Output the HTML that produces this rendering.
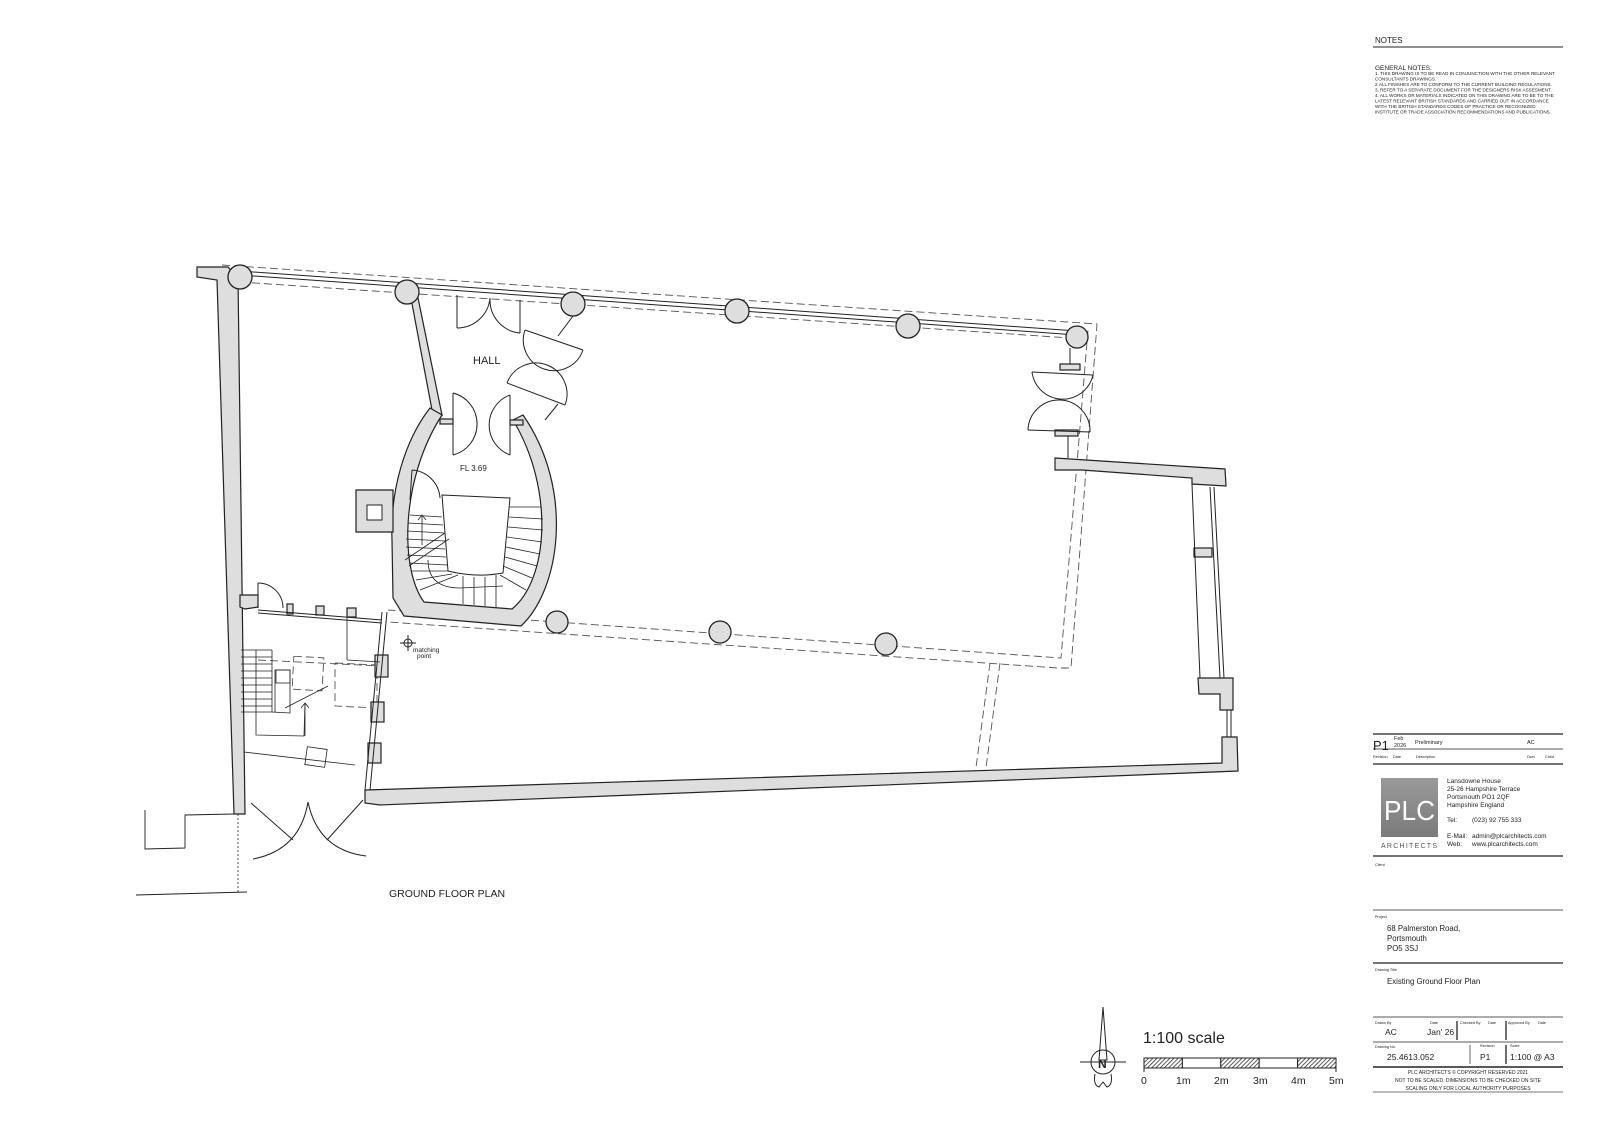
<!DOCTYPE html>
<html><head><meta charset="utf-8"><style>
html,body{margin:0;padding:0;background:#fff}
svg{display:block}
text{font-family:"Liberation Sans",Arial,sans-serif;fill:#222}
</style></head><body>
<svg width="1600" height="1131" viewBox="0 0 1600 1131" xmlns="http://www.w3.org/2000/svg">
<defs>
<pattern id="h" width="3" height="3" patternUnits="userSpaceOnUse" patternTransform="rotate(45)"><rect width="3" height="3" fill="#fff"/><line x1="0" y1="0" x2="0" y2="3" stroke="#333" stroke-width="1.6"/></pattern>
<linearGradient id="lg" x1="0" y1="0" x2="0" y2="1"><stop offset="0" stop-color="#9a9a9a"/><stop offset="1" stop-color="#7a7a7a"/></linearGradient>
</defs>
<g stroke="#222" stroke-width="1" fill="none">
<g stroke-dasharray="8,4" stroke="#555" stroke-width="0.9">
<polyline points="222,265 1097,324 1071,668 1058,668 388,622"/>
<polyline points="240,282 1070,338 1088,330 1061,658 388,610"/>
<line x1="1000" y1="663" x2="985" y2="775"/><line x1="990" y1="663" x2="975" y2="775"/>
<rect x="293" y="657" width="30" height="33" transform="rotate(3 308 673)"/>
<polyline points="335,663 377,665 377,708 335,706 335,663"/>
<line x1="258" y1="660" x2="380" y2="666"/>
</g>
<line x1="240" y1="271" x2="1077" y2="331"/><line x1="240" y1="275" x2="1077" y2="335"/>
<g fill="#dedede" stroke="#222" stroke-width="1.2">
<polygon points="197,267 228,267 238,278 245,814 234,814 217,280 197,277"/>
<polygon points="410,293 417,293 442,415 432,410"/>
<path d="M430 408 C405 440 390 490 392 540 L393 598 L404 616 L521 626 C560 590 575 490 523 415 L513 420 C555 490 548 580 512 609 L424 602 C400 570 400 480 442 415 Z"/>
<polygon points="356,490 393,490 393,532 356,532"/>
<polygon points="240,595 258,595 258,607 245,609 240,607"/>
<polygon points="365,790 1222,763 1222,737 1237,737 1238,771 380,805 365,803"/>
<polygon points="1055,458 1225,469 1226,486 1192,484 1192,478 1082,470 1055,470"/>
<polygon points="1198,678 1233,678 1233,710 1220,710 1220,694 1199,694"/>
<rect x="1194" y="548" width="18" height="9"/>
<rect x="287" y="604" width="6" height="10"/><rect x="316" y="606" width="8" height="9"/><rect x="347" y="608" width="9" height="9"/>
<rect x="375" y="655" width="13" height="22"/><rect x="371" y="702" width="13" height="20"/><rect x="368" y="743" width="13" height="20"/>
<rect x="1060" y="364" width="20" height="6"/><rect x="1055" y="430" width="23" height="6"/>
<rect x="440" y="419" width="13" height="5"/><rect x="510" y="420" width="13" height="5"/>
</g>
<rect x="367" y="505" width="15" height="15" fill="#fff"/>
<g fill="#dedede" stroke="#222" stroke-width="1.3">
<circle cx="240" cy="277" r="12"/><circle cx="407" cy="292" r="12"/><circle cx="573" cy="304" r="12"/><circle cx="737" cy="311" r="12"/><circle cx="908" cy="326" r="12"/><circle cx="1077" cy="337" r="11"/>
<circle cx="557" cy="622" r="11"/><circle cx="720" cy="632" r="11"/><circle cx="886" cy="644" r="11"/>
</g>
<line x1="258" y1="610" x2="382" y2="620"/><line x1="258" y1="613" x2="382" y2="623"/>
<line x1="382" y1="612" x2="365" y2="790"/><line x1="387" y1="612" x2="370" y2="790"/>
<line x1="1210" y1="487" x2="1220" y2="678"/><line x1="1214" y1="487" x2="1224" y2="678"/><line x1="1192" y1="484" x2="1200" y2="678"/>
<line x1="1227" y1="710" x2="1227" y2="737"/><line x1="1231" y1="710" x2="1231" y2="737"/>
<line x1="457" y1="295" x2="457" y2="328"/><path d="M457 328 A33 33 0 0 0 490 298"/>
<line x1="520" y1="300" x2="520" y2="333"/><path d="M520 333 A33 33 0 0 1 490 299"/>
<line x1="453" y1="393" x2="453" y2="455"/><path d="M453 393 A32 32 0 0 1 453 455"/>
<line x1="510" y1="395" x2="510" y2="455"/><path d="M510 395 A32 32 0 0 0 510 455"/>
<line x1="525" y1="330" x2="583" y2="350"/><path d="M525 330 A30 30 0 0 0 583 350"/>
<line x1="507" y1="383" x2="565" y2="405"/><path d="M507 383 A30 30 0 0 1 565 405"/>
<line x1="573" y1="316" x2="558" y2="336"/><line x1="558" y1="404" x2="545" y2="420"/>
<line x1="1032" y1="372" x2="1093" y2="375"/><path d="M1032 372 A31 31 0 0 0 1093 375"/>
<line x1="1028" y1="430" x2="1090" y2="432"/><path d="M1028 430 A31 31 0 0 1 1090 432"/>
<line x1="1070" y1="348" x2="1070" y2="364"/><line x1="1068" y1="436" x2="1068" y2="458"/>
<line x1="412" y1="470" x2="410" y2="500"/><path d="M412 470 A30 30 0 0 1 440 498"/>
<path d="M258 583 A25 25 0 0 1 283 608"/><line x1="258" y1="583" x2="258" y2="608"/>
<path d="M442 495 L510 498 L503 573 Q476 578 448 571 Z" fill="#fff"/>
<g stroke-width="0.8">
<line x1="410" y1="515" x2="442" y2="517"/><line x1="408" y1="523" x2="443" y2="525"/><line x1="407" y1="531" x2="444" y2="533"/><line x1="406" y1="539" x2="445" y2="541"/><line x1="406" y1="547" x2="445" y2="549"/><line x1="407" y1="555" x2="446" y2="557"/><line x1="409" y1="563" x2="447" y2="565"/><line x1="412" y1="571" x2="448" y2="571"/><line x1="416" y1="580" x2="452" y2="574"/><line x1="420" y1="590" x2="458" y2="575"/>
<line x1="463" y1="576" x2="463" y2="604"/><line x1="474" y1="577" x2="474" y2="605"/><line x1="485" y1="577" x2="485" y2="606"/><line x1="496" y1="575" x2="496" y2="607"/>
<line x1="510" y1="507" x2="541" y2="507"/><line x1="509" y1="517" x2="543" y2="519"/><line x1="508" y1="527" x2="543" y2="530"/><line x1="507" y1="537" x2="542" y2="542"/><line x1="506" y1="547" x2="540" y2="554"/><line x1="505" y1="557" x2="537" y2="566"/><line x1="503" y1="566" x2="532" y2="578"/><line x1="500" y1="575" x2="526" y2="590"/>
<line x1="405" y1="560" x2="445" y2="533"/><line x1="409" y1="566" x2="449" y2="539"/>
<path d="M422 515 L422 545 M418 520 L422 515 L426 520"/><path d="M428 560 Q428 588 460 588 L503 586"/>
<line x1="241" y1="650" x2="272" y2="650"/><line x1="241" y1="657" x2="272" y2="657"/><line x1="241" y1="664" x2="272" y2="664"/><line x1="241" y1="671" x2="272" y2="671"/><line x1="241" y1="678" x2="272" y2="678"/><line x1="241" y1="685" x2="272" y2="685"/><line x1="241" y1="692" x2="272" y2="692"/><line x1="241" y1="699" x2="272" y2="699"/><line x1="241" y1="706" x2="272" y2="706"/><line x1="241" y1="712" x2="272" y2="712"/>
<polyline points="256,650 256,735 304,736 305,703"/><polyline points="272,650 272,712 290,713 290,670 275,670 275,712"/>
<rect x="276" y="670" width="14" height="13"/>
<line x1="285" y1="708" x2="328" y2="686"/><path d="M305 736 L305 703 M301 708 L305 703 L309 708"/>
<rect x="306" y="748" width="20" height="18" transform="rotate(8 316 757)"/>
<line x1="244" y1="752" x2="355" y2="765"/><line x1="347" y1="617" x2="347" y2="660"/><line x1="347" y1="660" x2="380" y2="662"/>
</g>
<line x1="251" y1="803" x2="293" y2="840"/><path d="M308 802 Q300 850 253 859"/>
<line x1="363" y1="800" x2="327" y2="840"/><path d="M308 802 Q318 850 366 856"/>
<polyline points="145,810 145,849 185,848 185,815 234,814" stroke-width="0.9"/>
<line x1="238" y1="814" x2="238" y2="893" stroke-dasharray="2,2" stroke-width="0.8"/>
<line x1="136" y1="895" x2="247" y2="892" stroke-width="0.9"/>
<circle cx="408" cy="643" r="4"/><line x1="400" y1="643" x2="416" y2="643"/><line x1="408" y1="635" x2="408" y2="651"/>
</g>
<text x="473" y="364" font-size="11">HALL</text>
<text x="460" y="471" font-size="8">FL 3.69</text>
<text x="413" y="652" font-size="6.5">matching</text><text x="417" y="658" font-size="6.5">point</text>
<text x="389" y="897" font-size="10.5">GROUND FLOOR PLAN</text>

<g stroke="#222" stroke-width="1" fill="none">
<polygon points="1103,1007 1099,1060 1107,1060" fill="#fff"/>
<circle cx="1103" cy="1062" r="12"/><line x1="1080" y1="1062" x2="1126" y2="1062"/>
<path d="M1095 1074 Q1093 1085 1099 1087 L1103 1082 L1107 1087 Q1113 1085 1111 1074"/>
<rect x="1144" y="1058" width="38.4" height="10" fill="url(#h)"/><rect x="1182.4" y="1058" width="38.4" height="10" fill="#fff"/><rect x="1220.8" y="1058" width="38.4" height="10" fill="url(#h)"/><rect x="1259.2" y="1058" width="38.4" height="10" fill="#fff"/><rect x="1297.6" y="1058" width="38.4" height="10" fill="url(#h)"/>
<line x1="1144" y1="1068" x2="1144" y2="1072"/><line x1="1336" y1="1068" x2="1336" y2="1072"/>
</g>
<text x="1098" y="1068" font-size="12" font-weight="bold">N</text>
<text x="1143" y="1043" font-size="16">1:100 scale</text>
<g font-size="10.5"><text x="1141" y="1084">0</text><text x="1176" y="1084">1m</text><text x="1214" y="1084">2m</text><text x="1253" y="1084">3m</text><text x="1291" y="1084">4m</text><text x="1329" y="1084">5m</text></g>

<text x="1375" y="43" font-size="8">NOTES</text>
<line x1="1373" y1="47" x2="1563" y2="47" stroke="#222" stroke-width="0.9"/>
<text x="1375" y="70" font-size="6.5">GENERAL NOTES:</text>
<g font-size="4.6"><text x="1375" y="75">1. THIS DRAWING IS TO BE READ IN CONJUNCTION WITH THE OTHER RELEVANT</text><text x="1375" y="80.5">CONSULTANTS DRAWINGS.</text><text x="1375" y="86">2.ALL FINISHES ARE  TO CONFORM TO THE CURRENT BUILDING REGULATIONS.</text><text x="1375" y="91.5">3. REFER TO A SEPARATE DOCUMENT FOR THE DESIGNERS RISK ASSESMENT.</text><text x="1375" y="97">4. ALL WORKS OR MATERIALS INDICATED ON THIS DRAWING ARE TO BE TO THE</text><text x="1375" y="102.5">LATEST RELEVANT BRITISH STANDARDS AND CARRIED OUT IN ACCORDANCE</text><text x="1375" y="108">WITH THE BRITISH STANDARDS CODES OF PRACTICE OR RECOGNIZED</text><text x="1375" y="113.5">INSTITUTE OR TRADE ASSOCIATION RECOMMENDATIONS AND PUBLICATIONS.</text></g>

<g stroke="#222">
<line x1="1373" y1="734" x2="1563" y2="734" stroke-width="1.2"/>
<line x1="1373" y1="749" x2="1563" y2="749" stroke-width="0.7"/>
<line x1="1373" y1="764" x2="1563" y2="764" stroke-width="1.2"/>
<line x1="1373" y1="856" x2="1563" y2="856" stroke-width="1.3"/>
<line x1="1373" y1="910" x2="1563" y2="910" stroke-width="0.8"/>
<line x1="1373" y1="963" x2="1563" y2="963" stroke-width="1.3"/>
<line x1="1373" y1="1017" x2="1563" y2="1017" stroke-width="0.8"/>
<line x1="1373" y1="1042" x2="1563" y2="1042" stroke-width="0.8"/>
<line x1="1373" y1="1067" x2="1563" y2="1067" stroke-width="1.4"/>
<line x1="1373" y1="1092" x2="1563" y2="1092" stroke-width="0.9" stroke="#777"/>
<line x1="1457" y1="1021" x2="1457" y2="1040" stroke-width="1.3"/><line x1="1506" y1="1021" x2="1506" y2="1040" stroke-width="1.3"/>
<line x1="1470" y1="1045" x2="1470" y2="1064" stroke-width="1.1" stroke="#777"/><line x1="1506" y1="1045" x2="1506" y2="1064" stroke-width="1.3"/>
</g>
<text x="1373" y="750" font-size="13">P1</text>
<text x="1394" y="740" font-size="5.5">Feb</text><text x="1394" y="747" font-size="5.5">2026</text>
<text x="1415" y="744" font-size="5.5">Preliminary</text><text x="1527" y="744" font-size="5.5">AC</text>
<g font-size="3.8"><text x="1373" y="758">Revision</text><text x="1393" y="758">Date</text><text x="1416" y="758">Description</text><text x="1527" y="758">Dwn</text><text x="1545" y="758">Chkd</text></g>
<rect x="1381" y="778" width="57" height="59" fill="url(#lg)"/>
<text x="1384" y="820" font-size="28" font-family="Liberation Serif,serif" textLength="51" lengthAdjust="spacingAndGlyphs" style="fill:#fff">PLC</text>
<text x="1381" y="848" font-size="7" textLength="56" lengthAdjust="spacing" style="fill:#555">ARCHITECTS</text>
<g font-size="6.5"><text x="1447" y="783">Lansdowne House</text><text x="1447" y="791">25-26 Hampshire Terrace</text><text x="1447" y="799">Portsmouth PO1 2QF</text><text x="1447" y="807">Hampshire England</text>
<text x="1447" y="822">Tel:</text><text x="1472" y="822">(023) 92 755 333</text>
<text x="1447" y="838">E-Mail:</text><text x="1472" y="838">admin@plcarchitects.com</text>
<text x="1447" y="846">Web:</text><text x="1472" y="846">www.plcarchitects.com</text></g>
<text x="1375" y="866" font-size="3.8">Client</text>
<text x="1375" y="918" font-size="3.8">Project</text>
<g font-size="7.8"><text x="1387" y="931">68 Palmerston Road,</text><text x="1387" y="941">Portsmouth</text><text x="1387" y="951">PO5 3SJ</text></g>
<text x="1375" y="971" font-size="3.8">Drawing Title</text>
<text x="1387" y="984" font-size="7.8">Existing Ground Floor Plan</text>
<g font-size="3.8"><text x="1375" y="1024">Drawn By</text><text x="1430" y="1024">Date</text><text x="1460" y="1024">Checked By</text><text x="1488" y="1024">Date</text><text x="1508" y="1024">Approved By</text><text x="1538" y="1024">Date</text>
<text x="1375" y="1048">Drawing No.</text><text x="1480" y="1047">Revision</text><text x="1510" y="1047">Scale</text></g>
<g font-size="8.5"><text x="1385" y="1035">AC</text><text x="1427" y="1035">Jan' 26</text><text x="1387" y="1060">25.4613.052</text><text x="1480" y="1060">P1</text><text x="1510" y="1060">1:100 @ A3</text></g>
<g font-size="5" text-anchor="middle"><text x="1468" y="1074">PLC ARCHITECTS  ©  COPYRIGHT RESERVED 2021</text><text x="1468" y="1082">NOT TO BE SCALED.  DIMENSIONS TO BE CHECKED ON SITE</text><text x="1468" y="1090">SCALING ONLY FOR LOCAL AUTHORITY PURPOSES</text></g>
</svg>
</body></html>
